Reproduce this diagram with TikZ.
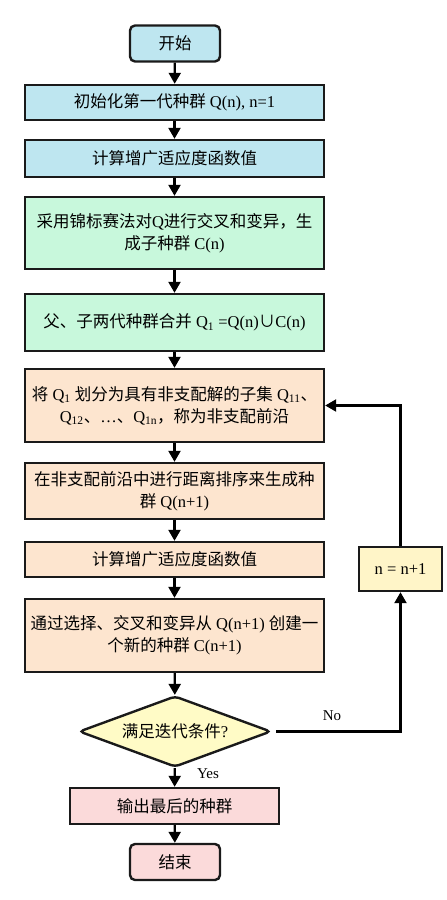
\documentclass[tikz,border=0pt]{standalone}
\usepackage{fontspec}
\setmainfont{Liberation Serif}
\newfontfamily\cjk{Noto Sans CJK SC}
\usetikzlibrary{shapes.geometric,arrows.meta}
\newcommand\zh[1]{{\cjk #1}}
\definecolor{cblue}{HTML}{BEE6F0}
\definecolor{cgreen}{HTML}{C8F8DC}
\definecolor{corange}{HTML}{FDE5CF}
\definecolor{cyellow}{HTML}{FFFBC6}
\definecolor{cinc}{HTML}{FFF5C8}
\definecolor{cpink}{HTML}{FBDADA}
\definecolor{cline}{HTML}{1A1A1A}
\tikzset{
  box/.style={draw=cline, line width=2.4pt, rectangle, inner sep=0pt, align=center,
    minimum width=299pt, font=\fontsize{16.5}{22}\selectfont},
  term/.style={box, rounded corners=5pt, minimum width=90pt, minimum height=36pt},
  arr/.style={-{Triangle[width=12pt,length=11pt]}, line width=2.2pt, draw=black},
  lab/.style={font=\fontsize{15}{18}\selectfont, inner sep=0pt},
}
\begin{document}
\begin{tikzpicture}[x=1pt,y=-1pt]
\useasboundingbox (0,0) rectangle (447,900);
\node[term, fill=cblue] (start) at (175,43.5) {\zh{开始}};
\node[box, fill=cblue, minimum height=35pt] (b1) at (174.5,102.5) {\zh{初始化第一代种群} Q(n), n=1};
\node[box, fill=cblue, minimum height=37pt] (b2) at (174.5,158.5) {\zh{计算增广适应度函数值}};
\node[box, fill=cgreen, minimum height=72pt] (b3) at (174.5,233) {\zh{采用锦标赛法对}Q\zh{进行交叉和变异，生}\\\zh{成子种群} C(n)};
\node[box, fill=cgreen, minimum height=57pt] (b4) at (174.5,322.5) {\zh{父、子两代种群合并} Q\textsubscript{1} =Q(n)\zh{∪}C(n)};
\node[box, fill=corange, minimum height=73pt] (b5) at (174.5,405.5) {\zh{将} Q\textsubscript{1} \zh{划分为具有非支配解的子集} Q\textsubscript{11}\zh{、}\\Q\textsubscript{12}\zh{、}…\zh{、}Q\textsubscript{1n}\zh{，称为非支配前沿}};
\node[box, fill=corange, minimum height=56pt] (b6) at (174.5,491) {\zh{在非支配前沿中进行距离排序来生成种}\\\zh{群} Q(n+1)};
\node[box, fill=corange, minimum height=35pt] (b7) at (174.5,559.5) {\zh{计算增广适应度函数值}};
\node[box, fill=corange, minimum height=73pt] (b8) at (174.5,635.5) {\zh{通过选择、交叉和变异从} Q(n+1) \zh{创建一}\\\zh{个新的种群} C(n+1)};
\node[draw=cline, line width=2.4pt, diamond, fill=cyellow, aspect=2.7, inner sep=0pt,
  minimum width=192pt, minimum height=71pt, rounded corners=4pt,
  font=\fontsize{16.5}{22}\selectfont] (dia) at (175,731.5) {\zh{满足迭代条件}?};
\node[box, fill=cpink, minimum width=209pt, minimum height=36pt] (out) at (174.5,806) {\zh{输出最后的种群}};
\node[term, fill=cpink] (end) at (175,862) {\zh{结束}};
\node[box, fill=cinc, minimum width=83pt, minimum height=44pt] (inc) at (400.5,569) {n = n+1};
\coordinate (corner) at (400.5,731.5);
\draw[arr] (start) -- (b1);
\draw[arr] (b1) -- (b2);
\draw[arr] (b2) -- (b3);
\draw[arr] (b3) -- (b4);
\draw[arr] (b4) -- (b5);
\draw[arr] (b5) -- (b6);
\draw[arr] (b6) -- (b7);
\draw[arr] (b7) -- (b8);
\draw[arr] (b8) -- (dia);
\draw[arr] (dia) -- (out);
\draw[arr] (out) -- (end);
\draw[arr] ([xshift=4pt]dia.east) -- (corner) -- (inc.south);
\draw[arr] (inc.north) |- (b5.east);
\node[lab] (no) at (332,716) {No};
\node[lab] (yes) at (208,774) {Yes};
\end{tikzpicture}
\end{document}
